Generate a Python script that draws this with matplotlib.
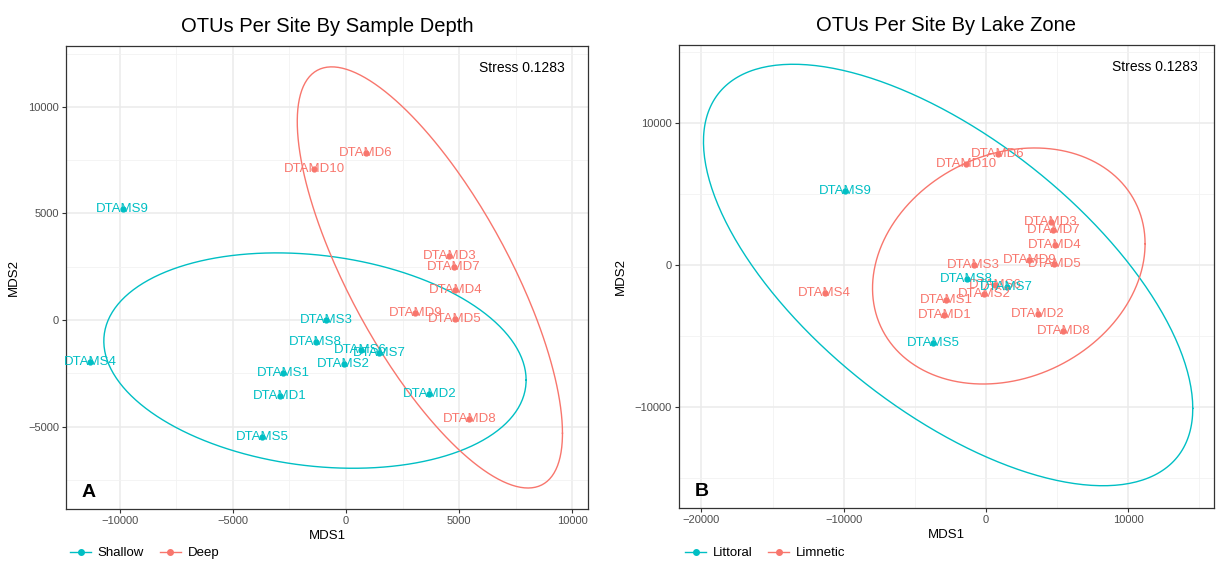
import numpy as np
import matplotlib
matplotlib.use("Agg")
import matplotlib.pyplot as plt
from matplotlib.lines import Line2D
from matplotlib.ticker import MultipleLocator

plt.rcParams['font.family'] = ['Liberation Sans', 'DejaVu Sans']

# NMDS site scores
sites = ['DTAMS1', 'DTAMS2', 'DTAMS3', 'DTAMS4', 'DTAMS5', 'DTAMS6', 'DTAMS7', 'DTAMS8', 'DTAMS9',
         'DTAMD1', 'DTAMD2', 'DTAMD3', 'DTAMD4', 'DTAMD5', 'DTAMD6', 'DTAMD7', 'DTAMD8', 'DTAMD9', 'DTAMD10']
mds1 = [-2790, -105, -865, -11325, -3720, 650, 1465, -1340, -9880,
        -2920, 3680, 4570, 4840, 4825, 865, 4755, 5450, 3065, -1395]
mds2 = [-2485, -2050, 0, -1950, -5480, -1408, -1570, -1015, 5220,
        -3545, -3475, 3010, 1408, 60, 7850, 2485, -4648, 348, 7080]
depth = ['Shallow'] * 9 + ['Shallow', 'Shallow', 'Deep', 'Deep', 'Deep', 'Deep', 'Deep', 'Deep', 'Deep', 'Deep']
zone = ['Limnetic', 'Limnetic', 'Limnetic', 'Limnetic', 'Littoral', 'Limnetic', 'Littoral', 'Littoral', 'Littoral',
        'Limnetic', 'Limnetic', 'Limnetic', 'Limnetic', 'Limnetic', 'Limnetic', 'Limnetic', 'Limnetic', 'Limnetic', 'Limnetic']

# ellipse: centre x, centre y, sd x, sd y, correlation
ell_depth = {'Shallow': (-1372, -1904, 9336, 5054, -0.181),
             'Deep': (3708, 1998, 5863, 9883, -0.740)}
ell_zone = {'Littoral': (-2651, -704, 17208, 14838, -0.633),
            'Limnetic': (1617, -70, 9585, 8310, 0.189)}

stress = 0.1283
cols = {'Shallow': '#00BFC4', 'Deep': '#F8766D', 'Littoral': '#00BFC4', 'Limnetic': '#F8766D'}


def ellipse_xy(p):
    cx, cy, sx, sy, r = p
    t = np.linspace(0, 2 * np.pi, 300)
    x = cx + sx * np.cos(t)
    y = cy + sy * (r * np.cos(t) + np.sqrt(1 - r * r) * np.sin(t))
    return x, y


def panel(ax, groups, order, ells, title, letter, xlim, ylim, xstep, ystep, stress_x):
    ax.set_facecolor('white')
    for g in order:
        ex, ey = ellipse_xy(ells[g])
        ax.plot(ex, ey, color=cols[g], lw=1.0, zorder=2)
    for i in range(len(sites)):
        c = cols[groups[i]]
        ax.plot(mds1[i], mds2[i], 'o', color=c, ms=3.5, zorder=3)
        ax.text(mds1[i], mds2[i], sites[i], color=c, fontsize=9.5, ha='center', va='center', zorder=4)

    ax.set_xlim(xlim)
    ax.set_ylim(ylim)
    ax.xaxis.set_major_locator(MultipleLocator(xstep))
    ax.xaxis.set_minor_locator(MultipleLocator(xstep / 2))
    ax.yaxis.set_major_locator(MultipleLocator(ystep))
    ax.yaxis.set_minor_locator(MultipleLocator(ystep / 2))
    ax.grid(which='major', color='#EBEBEB', lw=1.1, zorder=0)
    ax.grid(which='minor', color='#F2F2F2', lw=0.6, zorder=0)
    ax.set_axisbelow(True)
    ax.tick_params(which='major', length=3, width=0.8, color='#333333', labelsize=8, labelcolor='#4D4D4D', pad=2)
    ax.tick_params(which='minor', length=0)
    for s in ax.spines.values():
        s.set_color('#333333')
        s.set_linewidth(0.9)

    ax.set_xlabel('MDS1', fontsize=9.5, labelpad=3)
    ax.set_ylabel('MDS2', fontsize=9.5, labelpad=6)
    ax.set_title(title, fontsize=14.5, pad=10)
    ax.text(stress_x, 0.952, 'Stress %.4f' % stress, transform=ax.transAxes, ha='right', va='center', fontsize=10)
    ax.text(0.03, 0.017, letter, transform=ax.transAxes, ha='left', va='bottom', fontsize=14, fontweight='bold')


fig = plt.figure(figsize=(12.16, 5.64), dpi=100)
ax1 = fig.add_axes([66 / 1216, 55 / 564, 522 / 1216, 463 / 564])
ax2 = fig.add_axes([679 / 1216, 56 / 564, 535 / 1216, 463 / 564])

panel(ax1, depth, ['Shallow', 'Deep'], ell_depth, 'OTUs Per Site By Sample Depth', 'A',
      (-12380, 10700), (-8870, 12860), 5000, 5000, 0.956)
panel(ax2, zone, ['Littoral', 'Limnetic'], ell_zone, 'OTUs Per Site By Lake Zone', 'B',
      (-21580, 16050), (-17110, 15490), 10000, 10000, 0.970)

for ax, labs, x0 in [(ax1, ['Shallow', 'Deep'], 70), (ax2, ['Littoral', 'Limnetic'], 685)]:
    hs = [Line2D([], [], color=cols[l], lw=1.0, marker='o', ms=4) for l in labs]
    ax.legend(hs, labs, loc='center left', bbox_to_anchor=(x0 / 1216, 1 - 553 / 564),
              bbox_transform=fig.transFigure, ncol=2, frameon=False, fontsize=9.5,
              handlelength=1.6, handletextpad=0.5, columnspacing=1.2, borderpad=0, borderaxespad=0)

fig.savefig('out.png', dpi=100, facecolor='white')
